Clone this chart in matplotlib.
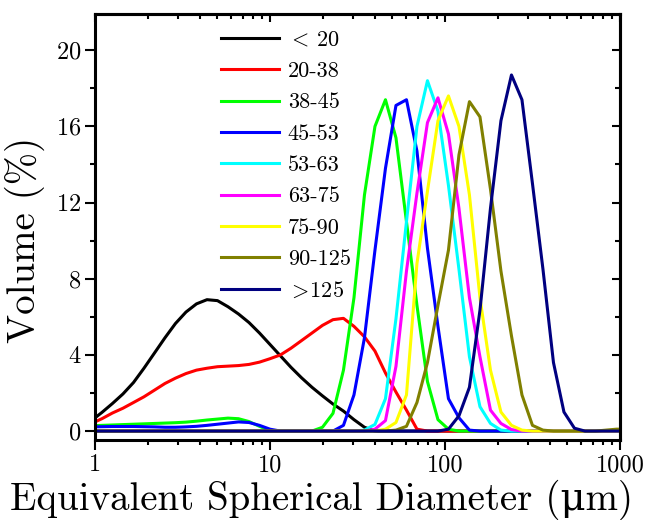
import matplotlib
matplotlib.use("Agg")
import matplotlib.pyplot as plt
from matplotlib.ticker import MultipleLocator, LogLocator, NullFormatter

# size bins (um)
sizes = [0.955, 1.096, 1.259, 1.445, 1.660, 1.905, 2.188, 2.512, 2.884, 3.311,
         3.802, 4.365, 5.012, 5.754, 6.607, 7.586, 8.710, 10.0, 11.48, 13.18,
         15.14, 17.38, 19.95, 22.91, 26.30, 30.20, 34.67, 39.81, 45.71, 52.48,
         60.26, 69.18, 79.43, 91.20, 104.7, 120.2, 138.0, 158.5, 182.0, 208.9,
         239.9, 275.4, 316.2, 363.1, 416.9, 478.6, 549.5, 631.0, 724.4, 831.8,
         955.0, 1096.0]

# volume (%) for each sieve fraction
v_lt20 = [0.55, 0.98, 1.45, 1.95, 2.55, 3.3, 4.1, 4.9, 5.65, 6.25,
          6.68, 6.9, 6.85, 6.53, 6.15, 5.7, 5.15, 4.55, 3.95, 3.35,
          2.8, 2.3, 1.85, 1.42, 1.05, 0.6, 0.2, 0, 0, 0,
          0, 0, 0, 0, 0, 0, 0, 0, 0, 0,
          0, 0, 0, 0, 0, 0, 0, 0, 0, 0,
          0, 0]
v_20_38 = [0.4, 0.65, 0.95, 1.2, 1.5, 1.8, 2.15, 2.5, 2.78, 3.02,
           3.2, 3.3, 3.38, 3.41, 3.44, 3.5, 3.62, 3.8, 4.0, 4.35,
           4.75, 5.15, 5.55, 5.85, 5.92, 5.5, 4.95, 4.2, 3.05, 2.05,
           1.1, 0.1, 0, 0, 0, 0, 0, 0, 0, 0,
           0, 0, 0, 0, 0, 0, 0, 0, 0, 0,
           0, 0]
v_38_45 = [0.28, 0.3, 0.32, 0.34, 0.36, 0.38, 0.4, 0.42, 0.44, 0.47,
           0.52, 0.58, 0.63, 0.68, 0.65, 0.5, 0.25, 0.02, 0, 0,
           0, 0, 0.2, 0.93, 3.2, 7.0, 12.4, 16.0, 17.4, 15.4,
           11.0, 6.6, 2.6, 0.6, 0.1, 0, 0, 0, 0, 0,
           0, 0, 0, 0, 0, 0, 0, 0, 0, 0,
           0, 0]
v_45_53 = [0.22, 0.23, 0.24, 0.24, 0.24, 0.23, 0.22, 0.2, 0.2, 0.22,
           0.25, 0.3, 0.36, 0.42, 0.48, 0.45, 0.3, 0.1, 0, 0,
           0, 0, 0, 0, 0.3, 1.9, 4.9, 9.5, 13.8, 17.1,
           17.4, 14.7, 9.6, 5.5, 1.7, 0.7, 0.05, 0, 0, 0,
           0, 0, 0, 0, 0, 0, 0, 0, 0, 0,
           0, 0]
v_53_63 = [0, 0, 0, 0, 0, 0, 0, 0, 0, 0,
           0, 0, 0, 0, 0, 0, 0, 0, 0, 0,
           0, 0, 0, 0, 0, 0, 0.05, 0.35, 1.7, 5.9,
           11.0, 16.0, 18.4, 16.8, 12.9, 8.5, 3.9, 1.28, 0.4, 0.05,
           0, 0, 0, 0, 0, 0, 0, 0, 0, 0,
           0, 0]
v_63_75 = [0, 0, 0, 0, 0, 0, 0, 0, 0, 0,
           0, 0, 0, 0, 0, 0, 0, 0, 0, 0,
           0, 0, 0, 0, 0, 0, 0, 0.1, 0.55, 3.4,
           8.4, 12.5, 16.2, 17.5, 15.6, 11.7, 7.0, 3.9, 1.1, 0.4,
           0.08, 0, 0, 0, 0, 0, 0, 0, 0, 0,
           0, 0]
v_75_90 = [0, 0, 0, 0, 0, 0, 0, 0, 0, 0,
           0, 0, 0, 0, 0, 0, 0, 0, 0, 0,
           0, 0, 0, 0, 0, 0, 0, 0, 0.1, 0.45,
           1.9, 8.8, 12.6, 16.3, 17.6, 16.0, 12.4, 7.0, 3.2, 1.0,
           0.3, 0.05, 0, 0, 0, 0, 0, 0, 0, 0,
           0, 0]
v_90_125 = [0, 0, 0, 0, 0, 0, 0, 0, 0, 0,
            0, 0, 0, 0, 0, 0, 0, 0, 0, 0,
            0, 0, 0, 0, 0, 0, 0, 0, 0, 0.05,
            0.25, 1.5, 3.6, 6.6, 9.5, 14.5, 17.3, 16.5, 12.7, 8.4,
            5.0, 1.9, 0.3, 0.05, 0, 0, 0, 0, 0, 0.05,
            0.1, 0.1]
v_gt125 = [0, 0, 0, 0, 0, 0, 0, 0, 0, 0,
           0, 0, 0, 0, 0, 0, 0, 0, 0, 0,
           0, 0, 0, 0, 0, 0, 0, 0, 0, 0,
           0, 0, 0, 0, 0.1, 0.8, 2.3, 6.35, 11.7, 16.3,
           18.7, 17.4, 13.0, 8.5, 3.6, 1.0, 0.15, 0, 0, 0,
           0, 0]

series = [v_lt20, v_20_38, v_38_45, v_45_53, v_53_63,
          v_63_75, v_75_90, v_90_125, v_gt125]
labels = [r"${<}\,$20", "20-38", "38-45", "45-53", "53-63",
          "63-75", "75-90", "90-125", r"${>}\!$125"]
colors = ["#000000", "#ff0000", "#00ff00", "#0000ff", "#00ffff",
          "#ff00ff", "#ffff00", "#808000", "#000080"]

x_ticks = [1, 10, 100, 1000]
x_tick_labels = ["1", "10", "100", "1000"]

plt.rcParams["font.family"] = ["cmr10", "DejaVu Serif"]
plt.rcParams["mathtext.fontset"] = "cm"
plt.rcParams["axes.formatter.use_mathtext"] = True

fig = plt.figure(figsize=(6.47, 5.2), dpi=100)
ax = fig.add_axes([0.1468, 0.1538, 0.8114, 0.8192])

for y, lab, c in zip(series, labels, colors):
    ax.plot(sizes, y, color=c, linewidth=2.2, label=lab)

ax.set_xscale("log")
ax.set_xlim(1, 1000)
ax.set_ylim(-0.47, 21.9)
ax.set_xticks(x_ticks, labels=x_tick_labels)
ax.xaxis.set_minor_locator(LogLocator(base=10, subs=range(2, 10)))
ax.xaxis.set_minor_formatter(NullFormatter())
ax.yaxis.set_major_locator(MultipleLocator(4))
ax.yaxis.set_minor_locator(MultipleLocator(2))

for s in ax.spines.values():
    s.set_linewidth(2.2)
ax.tick_params(which="both", direction="out", width=1.5, labelsize=17.5, pad=3)
ax.tick_params(which="major", length=7)
ax.tick_params(which="minor", length=3.8)

# mirrored ticks pointing inward on top and right
top = ax.secondary_xaxis("top")
top.set_xticks(x_ticks)
top.xaxis.set_minor_locator(LogLocator(base=10, subs=range(2, 10)))
top.xaxis.set_major_formatter(NullFormatter())
top.xaxis.set_minor_formatter(NullFormatter())
top.tick_params(which="both", direction="in", width=1.5)
top.tick_params(which="major", length=6)
top.tick_params(which="minor", length=3.5)
top.spines["top"].set_linewidth(2.2)

right = ax.secondary_yaxis("right")
right.yaxis.set_major_locator(MultipleLocator(4))
right.yaxis.set_minor_locator(MultipleLocator(2))
right.yaxis.set_major_formatter(NullFormatter())
right.tick_params(which="both", direction="in", width=1.5)
right.tick_params(which="major", length=6)
right.tick_params(which="minor", length=3.5)
right.spines["right"].set_linewidth(2.2)

ax.set_xlabel("Equivalent Spherical Diameter (μm)", fontsize=28)
ax.set_ylabel("Volume (%)", fontsize=28)
ax.xaxis.set_label_coords(0.432, -0.093)
ax.yaxis.set_label_coords(-0.095, 0.47)

ax.legend(loc="upper left", bbox_to_anchor=(0.24, 0.962), frameon=False,
          fontsize=16, handlelength=2.6, handletextpad=0.4,
          labelspacing=0.53, borderpad=0, borderaxespad=0)

fig.savefig("out.png", dpi=100)
